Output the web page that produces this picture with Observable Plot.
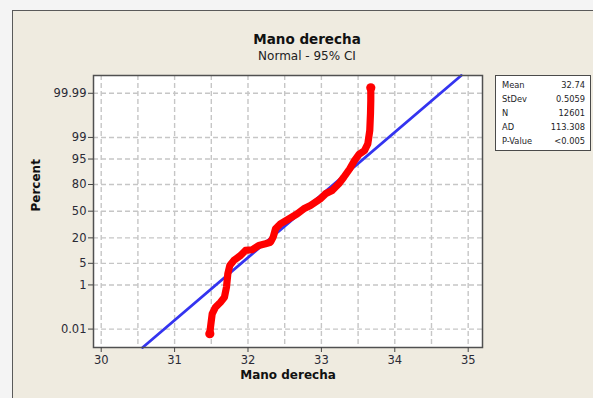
<!DOCTYPE html>
<html>
<head>
<meta charset="utf-8">
<script src="https://cdn.jsdelivr.net/npm/d3@7"></script>
<script src="https://cdn.jsdelivr.net/npm/@observablehq/plot@0.6"></script>
<style>
  html, body { margin: 0; padding: 0; background: #f4f4f4; }
  #page { position: relative; width: 593px; height: 398px; overflow: hidden; background: #f4f4f4; font-family: "DejaVu Sans", sans-serif; }
  #panel { position: absolute; left: 12px; top: 10px; width: 620px; height: 420px; background: #efebe0; border-left: 1px solid #5a5a5a; border-top: 1px solid #5a5a5a; }
  #chart { position: absolute; left: 0; top: 0; }
  #title { position: absolute; left: 207px; width: 200px; top: 31px; text-align: center; font-weight: bold; font-size: 13.5px; color: #111; line-height: 16px; }
  #subtitle { position: absolute; left: 207px; width: 200px; top: 49px; text-align: center; font-size: 12px; color: #222; line-height: 14px; }
  #stats { position: absolute; left: 495px; top: 75px; width: 94px; height: 72px; background: #fff; border: 1px solid #4a4a4a; box-sizing: content-box; font-size: 8.3px; color: #1e1e28; padding-top: 2px; }
  #stats .row { position: relative; height: 14px; line-height: 14px; }
  #stats .lab { position: absolute; left: 6px; }
  #stats .val { position: absolute; right: 5px; }
</style>
</head>
<body>
<div id="page">
  <div id="panel"></div>
  <div id="chart"></div>
  <div id="title"></div>
  <div id="subtitle"></div>
  <div id="stats"></div>
</div>
<script>
// ---- data ----
const chartTitle = "Mano derecha";
const chartSubtitle = "Normal - 95% CI";
const xLabel = "Mano derecha";
const yLabel = "Percent";

const xTicks = [30, 31, 32, 33, 34, 35];
const xGridValues = [30, 30.5, 31, 31.5, 32, 32.5, 33, 33.5, 34, 34.5, 35];
const yTickPercents = [0.01, 1, 5, 20, 50, 80, 95, 99, 99.99];
const yTickLabels = ["0.01", "1", "5", "20", "50", "80", "95", "99", "99.99"];

const sampleValues = [31.480, 31.489, 31.512, 31.557, 31.625, 31.679, 31.707, 31.725, 31.752, 31.807,
  31.898, 31.966, 32.057, 32.147, 32.238, 32.307, 32.343, 32.375, 32.443, 32.534,
  32.670, 32.760, 32.851, 32.988, 33.056, 33.147, 33.237, 33.305, 33.387, 33.451,
  33.510, 33.587, 33.632, 33.659, 33.669, 33.673, 33.673];
const samplePercents = [0.0056, 0.0127, 0.060, 0.123, 0.205, 0.333, 0.83, 2.41, 4.34, 6.0,
  8.1, 10.8, 11.2, 14.0, 15.2, 16.4, 20.6, 28.9, 34.6, 39.3,
  46.7, 53.0, 57.1, 65.2, 70.8, 74.3, 80.6, 85.8, 90.95, 94.5,
  96.3, 97.2, 98.3, 99.455, 99.897, 99.976, 99.995];

const fitMean = 32.74;
const fitStDev = 0.5059;

const statLabels = ["Mean", "StDev", "N", "AD", "P-Value"];
const statValues = ["32.74", "0.5059", "12601", "113.308", "<0.005"];

// ---- helpers ----
function qnorm(p) {
  const a = [-3.969683028665376e+01, 2.209460984245205e+02, -2.759285104469687e+02, 1.383577518672690e+02, -3.066479806614716e+01, 2.506628277459239e+00];
  const b = [-5.447609879822406e+01, 1.615858368580409e+02, -1.556989798598866e+02, 6.680131188771972e+01, -1.328068155288572e+01];
  const c = [-7.784894002430293e-03, -3.223964580411365e-01, -2.400758277161838e+00, -2.549671010229255e+00, 4.374664141464968e+00, 2.938163982698783e+00];
  const d = [7.784695709041462e-03, 3.224671290700398e-01, 2.445134137142996e+00, 3.754408661907416e+00];
  const pl = 0.02425, ph = 1 - pl;
  let q, r;
  if (p < pl) {
    q = Math.sqrt(-2 * Math.log(p));
    return (((((c[0]*q+c[1])*q+c[2])*q+c[3])*q+c[4])*q+c[5]) / ((((d[0]*q+d[1])*q+d[2])*q+d[3])*q+1);
  }
  if (p <= ph) {
    q = p - 0.5; r = q * q;
    return (((((a[0]*r+a[1])*r+a[2])*r+a[3])*r+a[4])*r+a[5])*q / (((((b[0]*r+b[1])*r+b[2])*r+b[3])*r+b[4])*r+1);
  }
  q = Math.sqrt(-2 * Math.log(1 - p));
  return -(((((c[0]*q+c[1])*q+c[2])*q+c[3])*q+c[4])*q+c[5]) / ((((d[0]*q+d[1])*q+d[2])*q+d[3])*q+1);
}

const yTickZ = yTickPercents.map(p => qnorm(p / 100));
const labelByZ = new Map(yTickZ.map((z, i) => [z, yTickLabels[i]]));
const samples = sampleValues.map((v, i) => ({x: v, z: qnorm(samplePercents[i] / 100)}));
const zDomain = [-4.30, 4.28];
const fitLine = zDomain.map(z => ({x: fitMean + fitStDev * z, z}));

const gridStyle = {stroke: "#c6c6c6", strokeOpacity: 1, strokeWidth: 1.4, strokeDasharray: "5,3"};

const chart = Plot.plot({
  width: 593,
  height: 398,
  marginTop: 75,
  marginRight: 111,
  marginBottom: 51,
  marginLeft: 93,
  style: {background: "transparent", fontFamily: "DejaVu Sans, sans-serif", fontSize: "11.5px", color: "#2a2a35", overflow: "visible"},
  x: {domain: [29.895, 35.195]},
  y: {domain: zDomain},
  marks: [
    Plot.frame({fill: "white", stroke: null}),
    Plot.gridX(xGridValues, gridStyle),
    Plot.gridY(yTickZ, gridStyle),
    Plot.line(fitLine, {x: "x", y: "z", stroke: "#3434f0", strokeWidth: 2.8}),
    Plot.line(samples, {x: "x", y: "z", stroke: "#ff0000", strokeWidth: 7.2, strokeLinecap: "round", strokeLinejoin: "round"}),
    Plot.dot([samples[0], samples[samples.length - 1]], {x: "x", y: "z", r: 4.6, fill: "#ff0000", stroke: null}),
    Plot.frame({stroke: "#505050", strokeWidth: 1.5}),
    Plot.axisX(xTicks, {tickSize: 5, tickPadding: 3, label: null, stroke: "#444", fill: "#2a2a35"}),
    Plot.axisY(yTickZ, {tickSize: 5, tickPadding: 2, label: null, tickFormat: z => labelByZ.get(z), stroke: "#444", fill: "#2a2a35"}),
    Plot.text([xLabel], {frameAnchor: "bottom", dy: 31, fontWeight: "bold", fontSize: 12, fill: "#111"}),
    Plot.text([yLabel], {frameAnchor: "left", dx: -57, rotate: -90, fontWeight: "bold", fontSize: 12, fill: "#111"})
  ]
});
document.getElementById("chart").appendChild(chart);

document.getElementById("title").textContent = chartTitle;
document.getElementById("subtitle").textContent = chartSubtitle;
const stats = document.getElementById("stats");
statLabels.forEach((lab, i) => {
  const row = document.createElement("div");
  row.className = "row";
  const l = document.createElement("span"); l.className = "lab"; l.textContent = lab;
  const v = document.createElement("span"); v.className = "val"; v.textContent = statValues[i];
  row.appendChild(l); row.appendChild(v);
  stats.appendChild(row);
});
</script>
</body>
</html>
